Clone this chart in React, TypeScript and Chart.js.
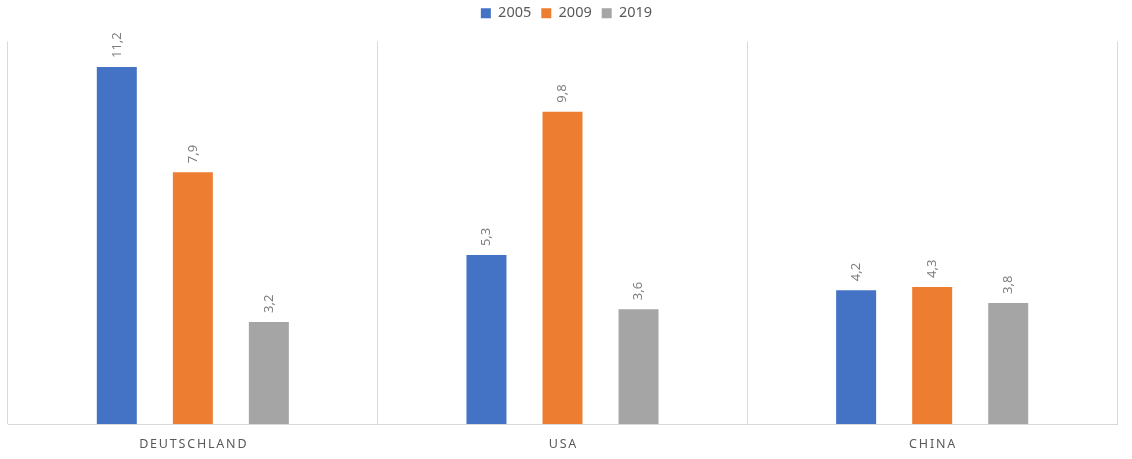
import React, { useEffect, useRef } from "react";
import { Chart, registerables } from "chart.js";

Chart.register(...registerables);

const categories = ["DEUTSCHLAND", "USA", "CHINA"];
const seriesNames = ["2005", "2009", "2019"];
const values2005 = [11.2, 5.3, 4.2];
const values2009 = [7.9, 9.8, 4.3];
const values2019 = [3.2, 3.6, 3.8];
const colors = ["#4472C4", "#ED7D31", "#A5A5A5"];

const FONT = "'Noto Sans', 'Liberation Sans', sans-serif";

const legendShiftPlugin = {
  id: "legendShift",
  afterLayout(chart: any) {
    const lg = chart.legend;
    if (!lg) return;
    lg.top -= 11;
    lg.bottom -= 11;
    lg.left += 4;
    lg.right += 4;
  },
};

const dataLabelPlugin = {
  id: "dataLabels",
  afterDatasetsDraw(chart: any) {
    const ctx = chart.ctx;
    ctx.save();
    ctx.font = `13px ${FONT}`;
    ctx.fillStyle = "#7F7F7F";
    ctx.textAlign = "left";
    ctx.textBaseline = "middle";
    chart.data.datasets.forEach((ds: any, di: number) => {
      const meta = chart.getDatasetMeta(di);
      meta.data.forEach((bar: any, i: number) => {
        const v = ds.data[i];
        const txt = v.toFixed(1).replace(".", ",");
        ctx.save();
        ctx.translate(bar.x, bar.y - 9);
        ctx.rotate(-Math.PI / 2);
        ctx.fillText(txt, 0, 0);
        ctx.restore();
      });
    });
    ctx.restore();
  },
};

const xLabelPlugin = {
  id: "xLabels",
  afterDraw(chart: any) {
    const ctx = chart.ctx;
    const xs = chart.scales.x;
    ctx.save();
    ctx.font = `12.5px ${FONT}`;
    ctx.fillStyle = "#595959";
    ctx.textAlign = "left";
    ctx.textBaseline = "middle";
    (ctx as any).letterSpacing = "1.8px";
    categories.forEach((c, i) => {
      const w = ctx.measureText(c).width - 1.8;
      const x = xs.getPixelForValue(i);
      ctx.fillText(c, x - w / 2, chart.chartArea.bottom + 20);
    });
    ctx.restore();
  },
};

export default function App() {
  const ref = useRef<HTMLCanvasElement>(null);
  useEffect(() => {
    if (!ref.current) return;
    const chart = new Chart(ref.current, {
      type: "bar",
      data: {
        labels: categories,
        datasets: [values2005, values2009, values2019].map((d, i) => ({
          label: seriesNames[i],
          data: d,
          backgroundColor: colors[i],
          borderWidth: 0,
          categoryPercentage: 0.617,
          barPercentage: 0.526,
        })),
      },
      options: {
        animation: false,
        responsive: true,
        maintainAspectRatio: false,
        layout: { padding: { left: 8, right: 15, top: 7, bottom: 35 } },
        plugins: {
          tooltip: { enabled: false },
          legend: {
            position: "top",
            align: "center",
            labels: {
              boxWidth: 10,
              boxHeight: 10,
              padding: 10,
              color: "#595959",
              font: { family: FONT, size: 14.5 },
            },
          },
        },
        scales: {
          x: {
            grid: {
              display: true,
              color: "#D9D9D9",
              drawTicks: false,
              offset: true,
            },
            border: { display: true, color: "#D9D9D9" },
            ticks: { display: false },
          },
          y: {
            display: false,
            min: 0,
            max: 12,
          },
        },
      },
      plugins: [legendShiftPlugin, dataLabelPlugin, xLabelPlugin],
    });
    return () => chart.destroy();
  }, []);
  return (
    <div style={{ position: "absolute", left: 0, top: 0, width: 1132, height: 459, background: "#fff" }}>
      <canvas ref={ref} />
    </div>
  );
}
